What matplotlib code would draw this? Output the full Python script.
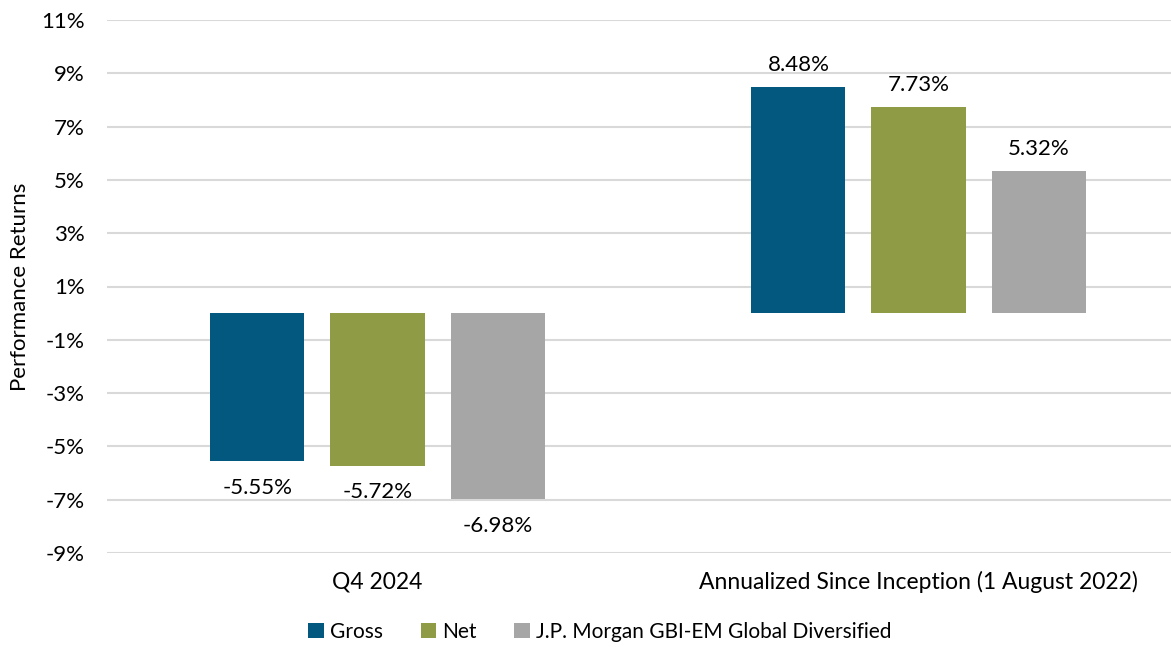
import numpy as np
import matplotlib.pyplot as plt

plt.rcParams['font.family'] = ['Lato', 'DejaVu Sans']

categories = ['Q4 2024', 'Annualized Since Inception (1 August 2022)']
series = ['Gross', 'Net', 'J.P. Morgan GBI-EM Global Diversified']
gross = [-5.55, 8.48]
net = [-5.72, 7.73]
benchmark = [-6.98, 5.32]
colors = ['#02587F', '#8F9B45', '#A6A6A6']

fig = plt.figure(figsize=(11.71, 6.47), dpi=100)
ax = fig.add_axes([107 / 1171, 1 - 553 / 647, 1082 / 1171, 533 / 647])

x = np.arange(len(categories))
step = 0.222
width = 0.174
for i, (name, vals) in enumerate(zip(series, [gross, net, benchmark])):
    pos = x + (i - 1) * step
    ax.bar(pos, vals, width, color=colors[i], label=name, zorder=3)
    for p, v in zip(pos, vals):
        off = 9 if v > 0 else -12
        ax.annotate(f'{v:.2f}%', (p, v), xytext=(0, off), textcoords='offset points',
                    ha='center', va='bottom' if v > 0 else 'top', fontsize=16)

ax.set_xlim(-0.5, 1.5)
ax.set_ylim(-9, 11)
ax.set_yticks(np.arange(-9, 12, 2))
ax.set_yticklabels([f'{t}%' for t in range(-9, 12, 2)], fontsize=16)
ax.set_xticks(x)
ax.set_xticklabels(categories, fontsize=16.5)
ax.tick_params(length=0, pad=16, axis='y')
ax.tick_params(length=0, pad=13, axis='x')
ax.grid(axis='y', color='#D9D9D9', linewidth=1.5, zorder=0)
for s in ax.spines.values():
    s.set_visible(False)
ax.set_ylabel('Performance Returns', fontsize=16, labelpad=8)

fig.legend(loc='center', bbox_to_anchor=(600 / 1171, 1 - 632 / 647), ncol=3,
           frameon=False, fontsize=15, handlelength=0.75, handleheight=0.75,
           handletextpad=0.3, columnspacing=1.8)

fig.savefig('out.png', dpi=100)
